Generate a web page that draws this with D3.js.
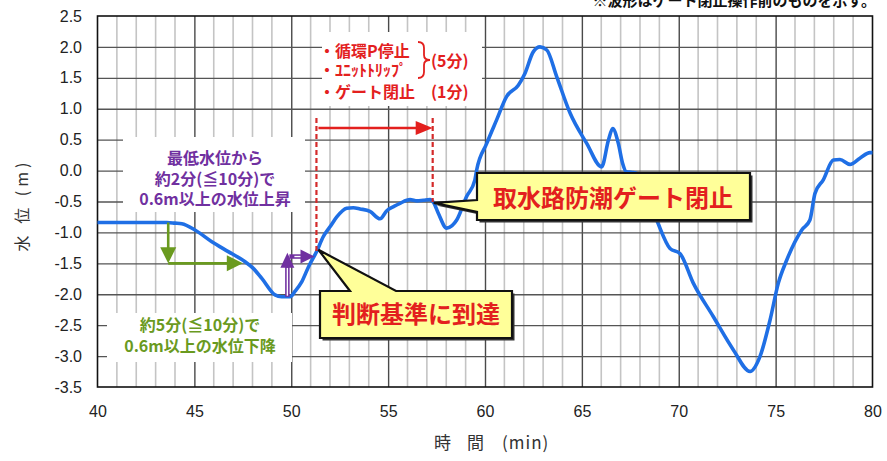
<!DOCTYPE html>
<html><head><meta charset="utf-8">
<script src="https://cdn.jsdelivr.net/npm/d3@7"></script>
<style>
body{margin:0;background:#fff;}
svg{display:block;}
.jp{font-family:"Noto Sans CJK JP","Noto Sans",sans-serif;font-weight:bold;}
</style></head>
<body><svg id="c" width="887" height="461"></svg>
<script>
// ---- data ----
const times = [40,41,42,43,43.57,44.0,44.35,45.03,45.9,46.75,47.6,48.0,48.47,49.16,49.5,49.94,50.2,50.54,50.9,51.31,51.65,52.0,52.35,52.86,53.2,53.55,54.06,54.58,54.93,55.3,55.61,56.13,56.5,56.82,57.16,57.35,57.59,58.02,58.3,58.54,59.05,59.48,59.57,60.09,60.6,61.12,61.72,62.06,62.49,62.84,63.19,63.7,64.39,65.25,66.02,66.37,66.59,66.88,67.1,67.3,67.6,67.85,68.4,68.86,69.55,70.06,70.75,71.78,72.82,73.68,74.19,74.71,75.14,75.57,76.35,76.77,77.03,77.46,77.98,78.32,78.84,79.35,79.87,80];
const levels = [-0.84,-0.84,-0.84,-0.84,-0.84,-0.85,-0.86,-0.96,-1.15,-1.31,-1.47,-1.57,-1.74,-2.01,-2.04,-2.04,-1.95,-1.80,-1.55,-1.31,-1.07,-0.91,-0.75,-0.61,-0.60,-0.62,-0.66,-0.78,-0.65,-0.58,-0.53,-0.47,-0.49,-0.48,-0.47,-0.52,-0.69,-0.93,-0.89,-0.80,-0.42,-0.15,0.01,0.44,0.82,1.20,1.38,1.57,1.92,2.00,1.95,1.52,0.93,0.44,0.06,0.49,0.68,0.44,0.12,-0.02,-0.03,-0.05,-0.45,-0.80,-1.26,-1.34,-1.82,-2.36,-2.90,-3.25,-3.01,-2.42,-1.82,-1.45,-0.96,-0.80,-0.37,-0.15,0.17,0.18,0.10,0.20,0.29,0.29];
const xTicks = [40,45,50,55,60,65,70,75,80];
const yTicks = [-3.5,-3.0,-2.5,-2.0,-1.5,-1.0,-0.5,0.0,0.5,1.0,1.5,2.0,2.5];
const xTitleParts = ["時","間","(min)"];
const yTitle = "水 位 (m)";
const note = "※波形はゲート閉止操作前のものを示す。";
const redLines = ["・循環P停止","・ﾕﾆｯﾄﾄﾘｯﾌﾟ","・ゲート閉止"];
const redDur = ["(5分)","(1分)"];
const purpleLines = ["最低水位から","約2分(≦10分)で","0.6m以上の水位上昇"];
const greenLines = ["約5分(≦10分)で","0.6m以上の水位下降"];
const callout1 = "判断基準に到達";
const callout2 = "取水路防潮ゲート閉止";
const judgeTime = 51.3, gateTime = 57.3;     // red dashed markers (min)
const dropArrow = {t:43.65, from:-0.84, to:-1.5, tEnd:47.5};
const riseArrow = {t:49.8, from:-2.04, to:-1.33, level:-1.39, tEnd:51.2};

// ---- layout ----
const svg = d3.select("#c");
const L=97.5, R=872.5, T=16, B=387;
const x = d3.scaleLinear().domain([40,80]).range([L,R]);
const y = d3.scaleLinear().domain([-3.5,2.5]).range([B,T]);
const RED="#e3201e", PURPLE="#7030a0", GREEN="#6a9a1f", BLUE="#1f6fe5";

// grid
const minor = d3.range(41,80).filter(d=>d%5!==0);
svg.append("g").selectAll("line").data(minor).join("line")
  .attr("x1",d=>x(d)).attr("x2",d=>x(d)).attr("y1",T).attr("y2",B)
  .attr("stroke","#c4c4c4").attr("stroke-width",1.6);
svg.append("g").attr("transform",`translate(0,${B})`)
  .call(d3.axisBottom(x).tickValues(xTicks.slice(1,-1)).tickSize(-(B-T)).tickFormat(""))
  .call(g=>g.select(".domain").remove())
  .selectAll("line").attr("stroke","#4a4a4a").attr("stroke-width",1.4);
svg.append("g").attr("transform",`translate(${L},0)`)
  .call(d3.axisLeft(y).tickValues(yTicks.slice(1,-1)).tickSize(-(R-L)).tickFormat(""))
  .call(g=>g.select(".domain").remove())
  .selectAll("line").attr("stroke","#555").attr("stroke-width",1.4);
svg.append("rect").attr("x",L).attr("y",T).attr("width",R-L).attr("height",B-T)
  .attr("fill","none").attr("stroke","#111").attr("stroke-width",1.6);

// axis labels
const xa = svg.append("g").attr("transform",`translate(0,${B})`)
  .call(d3.axisBottom(x).tickValues(xTicks).tickSize(0).tickPadding(19).tickFormat(d=>d));
xa.select(".domain").remove();
xa.selectAll("text").attr("font-family","Liberation Sans, Arial, sans-serif").attr("font-size",16).attr("fill","#222");
const ya = svg.append("g").attr("transform",`translate(${L},0)`)
  .call(d3.axisLeft(y).tickValues(yTicks).tickSize(0).tickPadding(15.5).tickFormat(d=>d.toFixed(1)));
ya.select(".domain").remove();
ya.selectAll("text").attr("font-family","Liberation Sans, Arial, sans-serif").attr("font-size",16).attr("fill","#222");

const xt = svg.append("text").attr("class","jp").attr("y",449)
  .attr("font-size",17).style("font-weight","normal").attr("fill","#333");
xt.selectAll("tspan").data(xTitleParts).join("tspan")
  .attr("x",(d,i)=>[434,467,502][i]).attr("letter-spacing",(d,i)=>i===2?1:0).text(d=>d);
svg.append("text").attr("class","jp").attr("transform","translate(28,205) rotate(-90)")
  .attr("text-anchor","middle").attr("font-size",16).style("font-weight","normal").attr("letter-spacing",4).attr("fill","#333").text(yTitle);

// note
svg.append("text").attr("class","jp").attr("x",876).attr("y",6).attr("text-anchor","end")
  .attr("font-size",15).attr("fill","#111").text(note);

// white text boxes
svg.append("rect").attr("x",322).attr("y",32).attr("width",160).attr("height",74).attr("fill","#fff");
svg.append("rect").attr("x",123).attr("y",137).attr("width",182).attr("height",75).attr("fill","#fff");
svg.append("rect").attr("x",107).attr("y",313).attr("width",185).attr("height",49).attr("fill","#fff");

// curve
const data = times.map((t,i)=>({t,v:levels[i]}));
svg.append("path").datum(data)
  .attr("d",d3.line().x(d=>x(d.t)).y(d=>y(d.v)).curve(d3.curveMonotoneX))
  .attr("fill","none").attr("stroke",BLUE).attr("stroke-width",3.6).attr("stroke-linejoin","round");

// red dashed markers and arrow
const lvlAt = t => { const i=d3.bisector(d=>d.t).left(data,t); const a=data[i-1],b=data[i]; return a.v+(b.v-a.v)*(t-a.t)/(b.t-a.t); };
[judgeTime,gateTime].forEach(t=>{
  svg.append("line").attr("x1",x(t)).attr("x2",x(t)).attr("y1",118).attr("y2",y(lvlAt(t)))
    .attr("stroke","#d42a2a").attr("stroke-width",2.2).attr("stroke-dasharray","5,3");
});
svg.append("line").attr("x1",x(judgeTime)+2).attr("x2",x(gateTime)-14).attr("y1",128).attr("y2",128)
  .attr("stroke",RED).attr("stroke-width",2.6);
svg.append("path").attr("d",`M${x(gateTime)},128 L${x(gateTime)-17},121 L${x(gateTime)-17},135 Z`).attr("fill",RED);

// red text
redLines.forEach((s,i)=>{
  svg.append("text").attr("class","jp").attr("x",319).attr("y",[57,76,98][i]).attr("font-size",16).attr("fill",RED).text(s);
});
svg.append("path").attr("d","M418,42 Q424,42 424,48 L424,55 Q424,60 430,60 Q424,60 424,65 L424,72 Q424,78 418,78")
  .attr("fill","none").attr("stroke",RED).attr("stroke-width",1.8);
svg.append("text").attr("class","jp").attr("x",431).attr("y",67).attr("font-size",16).attr("fill",RED).text(redDur[0]);
svg.append("text").attr("class","jp").attr("x",431).attr("y",98).attr("font-size",16).attr("fill",RED).text(redDur[1]);

// purple text
purpleLines.forEach((s,i)=>{
  svg.append("text").attr("class","jp").attr("x",215).attr("y",[164,185,205][i]).attr("text-anchor","middle")
    .attr("font-size",16).attr("fill",PURPLE).text(s);
});
// green text
greenLines.forEach((s,i)=>{
  svg.append("text").attr("class","jp").attr("x",200).attr("y",[331,352][i]).attr("text-anchor","middle")
    .attr("font-size",16).attr("fill",GREEN).text(s);
});

// green arrows
const gx = x(dropArrow.t), gy0=y(dropArrow.from), gy1=y(dropArrow.to), gx1=x(dropArrow.tEnd);
svg.append("line").attr("x1",gx).attr("x2",gx).attr("y1",gy0).attr("y2",gy1-14).attr("stroke",GREEN).attr("stroke-width",2.6);
svg.append("path").attr("d",`M${gx},${gy1} L${gx-8},${gy1-16} L${gx+8},${gy1-16} Z`).attr("fill",GREEN);
svg.append("line").attr("x1",gx).attr("x2",gx1-14).attr("y1",gy1).attr("y2",gy1).attr("stroke",GREEN).attr("stroke-width",2.6);
svg.append("path").attr("d",`M${gx1},${gy1} L${gx1-16},${gy1-8} L${gx1-16},${gy1+8} Z`).attr("fill",GREEN);

// purple arrows
const px = x(riseArrow.t), py0=y(riseArrow.from), py1=y(riseArrow.to), ph=y(riseArrow.level), px1=x(riseArrow.tEnd);
svg.append("line").attr("x1",px).attr("x2",px).attr("y1",py0).attr("y2",py1+14).attr("stroke",PURPLE).attr("stroke-width",4.5);
svg.append("line").attr("x1",px).attr("x2",px).attr("y1",py0-1).attr("y2",py1+15).attr("stroke","#fff").attr("stroke-width",1.4);
svg.append("path").attr("d",`M${px},${py1} L${px-7},${py1+15} L${px+7},${py1+15} Z`).attr("fill",PURPLE);
svg.append("line").attr("x1",px+2).attr("x2",px1-12).attr("y1",ph).attr("y2",ph).attr("stroke",PURPLE).attr("stroke-width",4.5);
svg.append("line").attr("x1",px+7).attr("x2",px1-12).attr("y1",ph).attr("y2",ph).attr("stroke","#fff").attr("stroke-width",1.4);
svg.append("path").attr("d",`M${px1},${ph} L${px1-14},${ph-7} L${px1-14},${ph+7} Z`).attr("fill",PURPLE);

// callouts
function callout(pathD, tx, ty, label){
  svg.append("path").attr("d",pathD).attr("transform","translate(2.5,2.5)").attr("fill","#333");
  svg.append("path").attr("d",pathD).attr("fill","#ffff99").attr("stroke","#111").attr("stroke-width",2.2).attr("stroke-linejoin","miter");
  svg.append("text").attr("class","jp").attr("x",tx).attr("y",ty).attr("text-anchor","middle")
    .attr("font-size",24).attr("fill",RED).text(label);
}
const jx = x(judgeTime)+2, jy = y(lvlAt(judgeTime+0.05));
callout(`M320,291 L350,291 L${jx},${jy} L396,291 L512,291 L512,338 L320,338 Z`, 416, 323, callout1);
const kx = x(gateTime)+1, ky = y(lvlAt(gateTime))+1;
callout(`M477,173 L750,173 L750,220 L477,220 L477,212 L${kx},${ky} L477,200 Z`, 613, 207, callout2);
</script></body></html>
